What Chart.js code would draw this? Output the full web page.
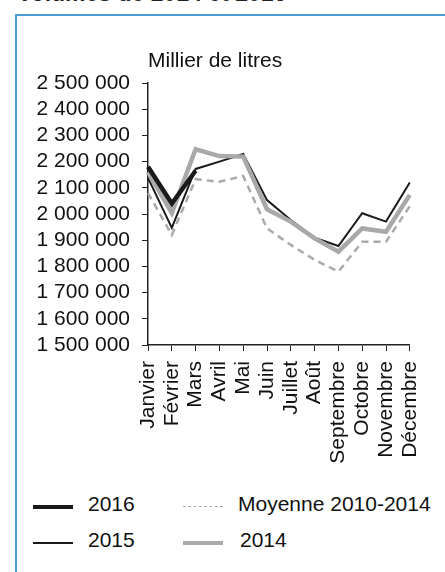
<!DOCTYPE html>
<html>
<head>
<meta charset="utf-8">
<script src="https://cdn.jsdelivr.net/npm/chart.js@4"></script>
<style>
  body{margin:0;width:445px;height:572px;overflow:hidden;background:#fff;font-family:"Liberation Sans",Arial,sans-serif;position:relative}
  #title{position:absolute;left:17px;top:-18px;font-size:23px;line-height:23px;font-weight:bold;color:#222;white-space:nowrap}
  #frame{position:absolute;left:15px;top:14px;width:430px;height:558px;border-left:2px solid #4b9fd5;border-top:2px solid #4b9fd5}
  #unit{position:absolute;left:148px;top:48px;font-size:21px;color:#111}
  #wrap{position:absolute;left:0;top:0;width:445px;height:480px}
  #legend{position:absolute;left:0;top:0}
  .item{position:absolute;font-size:21px;color:#111;white-space:nowrap}
  .swatch{position:absolute;width:40px;height:0}
</style>
</head>
<body>
<div id="title">Volumes de 2014 et 2016</div>
<div id="frame"></div>
<div id="wrap"><canvas id="myChart"></canvas></div>
<div id="unit">Millier de litres</div>
<div id="legend"></div>
<script>
const months=['Janvier','Février','Mars','Avril','Mai','Juin','Juillet','Août','Septembre','Octobre','Novembre','Décembre'];
const v2016=[2180000,2040000,2165000,null,null,null,null,null,null,null,null,null];
const v2015=[2138000,1947000,2172000,2200000,2229000,2053000,1977000,1910000,1878000,2003000,1971000,2120000];
const moyenne=[2080000,1920000,2133000,2123000,2145000,1945000,1882000,1825000,1780000,1894000,1894000,2030000];
const v2014=[2160000,2004000,2247000,2221000,2219000,2018000,1971000,1907000,1856000,1945000,1932000,2073000];

const ctx=document.getElementById('myChart');
const datasets=[
  {label:'2016',data:v2016,borderColor:'#1a1a1a',borderWidth:4.5,order:0},
  {label:'Moyenne 2010-2014',data:moyenne,borderColor:'#aaaaaa',borderWidth:2.5,borderDash:[7,5],order:3},
  {label:'2015',data:v2015,borderColor:'#1a1a1a',borderWidth:2,order:2},
  {label:'2014',data:v2014,borderColor:'#a9a9a9',borderWidth:4.5,order:1}
];
datasets.forEach(d=>{d.pointRadius=0;d.tension=0;d.fill=false;d.spanGaps=false;});

new Chart(ctx,{
  type:'line',
  data:{labels:months,datasets:datasets},
  options:{
    responsive:true,
    maintainAspectRatio:false,
    animation:false,
    layout:{padding:{top:83,right:21,left:0,bottom:0}},
    plugins:{legend:{display:false},tooltip:{enabled:false},title:{display:false}},
    scales:{
      x:{
        offset:false,
        grid:{drawOnChartArea:false,color:'#222',tickLength:6,lineWidth:1},
        border:{color:'#222',width:1.5},
        afterFit:function(s){s.height=135;},
        ticks:{color:'#111',font:{family:'"Liberation Sans", Arial',size:21},maxRotation:90,minRotation:90,autoSkip:false,padding:10}
      },
      y:{
        min:1500000,max:2500000,
        grid:{drawOnChartArea:false,color:'#222',tickLength:6},
        border:{color:'#222',width:1.5},
        afterFit:function(s){s.width=148;},
        ticks:{stepSize:100000,autoSkip:false,color:'#111',font:{family:'"Liberation Sans", Arial',size:21},padding:12,
          callback:function(v){return v.toString().replace(/\B(?=(\d{3})+(?!\d))/g,' ');}}
      }
    }
  }
});

// legende en deux colonnes
const slots=[[33,88,505],[183,238,505],[33,88,541],[183,240,541]];
const leg=document.getElementById('legend');
datasets.forEach((d,i)=>{
  const s=slots[i];
  const line=document.createElement('div');
  line.className='swatch';
  line.style.left=s[0]+'px';
  line.style.top=(s[2]-d.borderWidth/2+2)+'px';
  line.style.borderTop=(d.borderDash?1.5:d.borderWidth)+'px '+(d.borderDash?'dashed ':'solid ')+d.borderColor;
  leg.appendChild(line);
  const t=document.createElement('div');
  t.className='item';
  t.textContent=d.label;
  t.style.left=s[1]+'px';
  t.style.top=(s[2]-13)+'px';
  leg.appendChild(t);
});
</script>
</body>
</html>
